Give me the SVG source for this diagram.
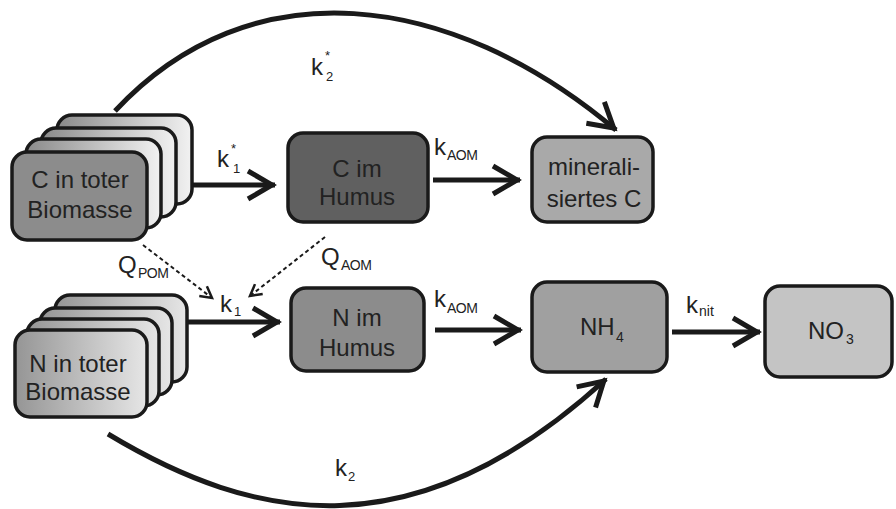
<svg xmlns="http://www.w3.org/2000/svg" width="896" height="509" viewBox="0 0 896 509">
<defs>
<style>
.box{stroke:#1a1a1a;stroke-width:3.5}
.t{font-family:"Liberation Sans",Arial,sans-serif;font-size:24px;fill:#222}
.s{font-size:14px}
.x{font-size:13px}
.c{text-anchor:middle}
.thick{fill:none;stroke:#1a1a1a;stroke-width:5}
.dash{fill:none;stroke:#1a1a1a;stroke-width:2;stroke-dasharray:4 3}
</style>
<linearGradient id="g1" x1="0" y1="0" x2="1" y2="0">
<stop offset="0" stop-color="#8a8a8a"/><stop offset="1" stop-color="#f2f2f2"/>
</linearGradient>
<linearGradient id="g2" x1="0" y1="0" x2="1" y2="0">
<stop offset="0" stop-color="#959595"/><stop offset="1" stop-color="#e6e6e6"/>
</linearGradient>
<marker id="ah" markerUnits="userSpaceOnUse" markerWidth="40" markerHeight="40" viewBox="-32 -20 40 40" refX="0" refY="0" orient="auto" overflow="visible">
<path d="M-27,-14 L-3,0 L-27,14" fill="none" stroke="#1a1a1a" stroke-width="5"/>
</marker>
<marker id="ahs" markerUnits="userSpaceOnUse" markerWidth="20" markerHeight="20" viewBox="-12 -8 16 16" refX="0" refY="0" orient="auto" overflow="visible">
<path d="M-9,-5 L0,0 L-9,5" fill="none" stroke="#1a1a1a" stroke-width="2"/>
</marker>
</defs>
<rect width="896" height="509" fill="#fff"/>

<g id="connectors">
<path class="thick" d="M115,111 C250,-34 450,-10 616,130" marker-end="url(#ah)"/>
<path class="thick" d="M108,434 C254,522 414,555 606,379" marker-end="url(#ah)"/>
<line class="thick" x1="192" y1="185" x2="275" y2="185" marker-end="url(#ah)"/>
<line class="thick" x1="433" y1="180" x2="520" y2="180" marker-end="url(#ah)"/>
<line class="thick" x1="187" y1="322" x2="280" y2="322" marker-end="url(#ah)"/>
<line class="thick" x1="435" y1="330" x2="521" y2="330" marker-end="url(#ah)"/>
<line class="thick" x1="672" y1="332" x2="760" y2="332" marker-end="url(#ah)"/>
<line class="dash" x1="143" y1="245" x2="212" y2="298" marker-end="url(#ahs)"/>
<line class="dash" x1="325" y1="237" x2="250" y2="296" marker-end="url(#ahs)"/>
<text class="t" x="217" y="167">k<tspan class="x" x="231" y="153">*</tspan><tspan class="x" x="233" y="173">1</tspan></text>
<text class="t" x="311" y="75">k<tspan class="x" x="325" y="60">*</tspan><tspan class="x" x="326" y="81">2</tspan></text>
<text class="t" x="434" y="155">k<tspan class="s" x="447" y="160" letter-spacing="-0.5">AOM</tspan></text>
<text class="t" x="434" y="307">k<tspan class="s" x="447" y="313" letter-spacing="-0.5">AOM</tspan></text>
<text class="t" x="686" y="313">k<tspan class="s" x="699" y="316">nit</tspan></text>
<text class="t" x="220" y="312">k<tspan class="x" x="234" y="316">1</tspan></text>
<text class="t" x="118" y="273">Q<tspan class="s" x="138" y="278" letter-spacing="-0.5">POM</tspan></text>
<text class="t" x="321" y="265">Q<tspan class="s" x="341" y="270" letter-spacing="-0.5">AOM</tspan></text>
<text class="t" x="335" y="476">k<tspan class="x" x="348" y="481">2</tspan></text>
</g>

<g id="c-tote-biomasse">
<rect class="box" x="57" y="115" width="135" height="89" rx="15" fill="url(#g1)"/>
<rect class="box" x="41" y="128" width="135" height="89" rx="15" fill="url(#g1)"/>
<rect class="box" x="26" y="139" width="135" height="89" rx="15" fill="url(#g1)"/>
<rect class="box" x="12" y="152" width="135" height="88" rx="15" fill="#8c8c8c"/>
<text class="t c" x="80" y="188">C in toter</text>
<text class="t c" x="80" y="218">Biomasse</text>
</g>

<g id="n-tote-biomasse">
<rect class="box" x="55" y="295" width="132" height="87" rx="15" fill="url(#g2)"/>
<rect class="box" x="40" y="308" width="132" height="87" rx="15" fill="url(#g2)"/>
<rect class="box" x="27" y="319" width="132" height="87" rx="15" fill="url(#g2)"/>
<rect class="box" x="15" y="330" width="132" height="87" rx="15" fill="url(#g2)"/>
<text class="t c" x="78" y="372">N in toter</text>
<text class="t c" x="78" y="400">Biomasse</text>
</g>

<g id="c-humus">
<rect class="box" x="288" y="133" width="140" height="89" rx="15" fill="#606060"/>
<text class="t c" x="357" y="177">C im</text>
<text class="t c" x="357" y="205">Humus</text>
</g>

<g id="c-mineral">
<rect class="box" x="532" y="137" width="121" height="85" rx="15" fill="#a9a9a9"/>
<text class="t c" x="594" y="175">minerali-</text>
<text class="t c" x="594" y="207">siertes C</text>
</g>

<g id="n-humus">
<rect class="box" x="291" y="288" width="133" height="83" rx="15" fill="#8c8c8c"/>
<text class="t c" x="357" y="326">N im</text>
<text class="t c" x="357" y="356">Humus</text>
</g>

<g id="nh4">
<rect class="box" x="532" y="282" width="135" height="90" rx="15" fill="#a0a0a0"/>
<text class="t" x="580" y="335">NH<tspan class="s" x="616" y="342">4</tspan></text>
</g>

<g id="no3">
<rect class="box" x="765" y="286" width="127" height="91" rx="15" fill="#c4c4c4"/>
<text class="t" x="808" y="339">NO<tspan class="s" x="846" y="344">3</tspan></text>
</g>
</svg>
